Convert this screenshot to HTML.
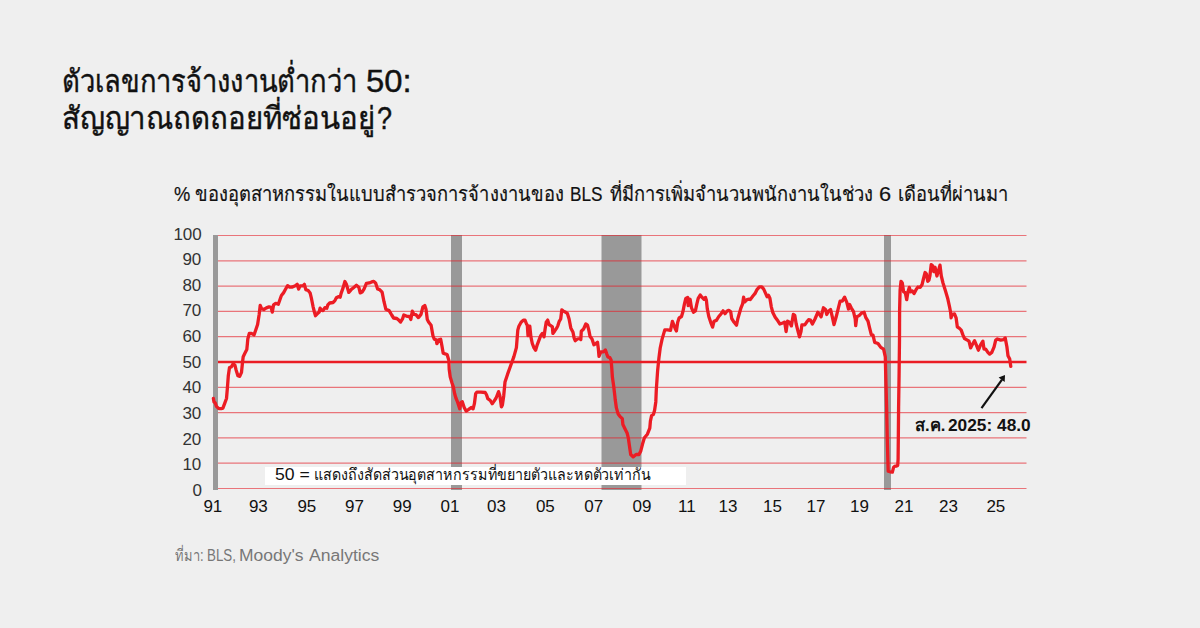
<!DOCTYPE html>
<html><head><meta charset="utf-8">
<style>
*{margin:0;padding:0;box-sizing:border-box}
html,body{width:1200px;height:628px;overflow:hidden;background:#efefef}
body{position:relative;font-family:"Liberation Sans",sans-serif;color:#111}
.r{position:absolute;white-space:nowrap;line-height:1.2;transform-origin:0 0}
.box{position:absolute;left:265px;top:467px;width:421px;height:17.7px;background:#fff}
svg{position:absolute;left:0;top:0}
</style></head><body>
<svg width="1200" height="628" viewBox="0 0 1200 628">
<g fill="#999">
<rect x="213" y="235" width="5" height="255"/>
<rect x="451" y="235" width="11" height="255"/>
<rect x="601.5" y="235" width="40" height="255"/>
<rect x="884" y="235" width="7" height="255"/>
</g>
<g stroke="#e5222b" stroke-opacity="0.6" stroke-width="1.2">
<line x1="218" x2="1026.5" y1="488.5" y2="488.5"/><line x1="218" x2="1026.5" y1="463.2" y2="463.2"/><line x1="218" x2="1026.5" y1="437.9" y2="437.9"/><line x1="218" x2="1026.5" y1="412.6" y2="412.6"/><line x1="218" x2="1026.5" y1="387.3" y2="387.3"/><line x1="218" x2="1026.5" y1="336.7" y2="336.7"/><line x1="218" x2="1026.5" y1="311.4" y2="311.4"/><line x1="218" x2="1026.5" y1="286.1" y2="286.1"/><line x1="218" x2="1026.5" y1="260.8" y2="260.8"/><line x1="218" x2="1026.5" y1="235.5" y2="235.5"/>
</g>
<line x1="218" x2="1026.5" y1="362.0" y2="362.0" stroke="#ea1d25" stroke-width="2.3"/>
<path d="M213.4 398.5 L214.0 402.1 L215.2 402.7 L216.4 406.3 L218.8 408.7 L221.1 408.7 L222.9 408.1 L224.7 403.3 L226.5 398.5 L227.4 387.8 L228.3 375.8 L229.5 367.5 L231.3 366.9 L233.1 363.9 L234.9 365.1 L236.1 369.9 L237.9 375.8 L239.7 376.4 L241.5 372.3 L242.6 361.5 L243.2 356.7 L245.0 353.1 L246.8 349.6 L247.4 343.6 L247.8 339.0 L249.3 333.3 L251.4 333.3 L254.0 334.9 L255.5 330.7 L257.6 324.5 L259.2 314.2 L260.2 305.4 L261.7 309.0 L263.8 309.5 L266.4 307.9 L269.0 306.9 L271.1 307.4 L272.3 312.1 L273.6 304.8 L275.7 303.3 L278.3 304.3 L279.9 299.7 L281.4 295.5 L283.5 292.9 L285.5 289.3 L287.6 285.7 L289.7 287.2 L292.4 287.0 L295.3 285.8 L297.2 284.3 L298.6 289.1 L300.1 285.8 L302.9 285.8 L304.4 284.3 L305.8 289.6 L308.2 290.5 L310.1 292.9 L311.5 298.7 L313.0 306.3 L314.4 312.0 L315.5 315.7 L317.2 313.9 L319.2 312.0 L320.1 308.2 L321.5 310.1 L323.0 310.6 L324.9 307.7 L326.8 308.2 L327.8 304.9 L329.7 303.0 L333.0 302.5 L334.9 300.6 L336.4 297.7 L338.3 296.7 L340.2 297.2 L341.1 293.4 L343.0 288.1 L344.9 281.5 L346.4 284.3 L347.8 289.1 L348.8 292.4 L351.2 289.6 L353.5 287.7 L356.4 285.3 L358.8 287.2 L360.2 292.9 L362.1 292.0 L364.0 289.1 L366.4 283.4 L369.3 282.9 L371.7 281.9 L373.8 281.3 L375.7 283.2 L377.6 288.9 L379.6 289.6 L382.1 292.1 L384.0 301.7 L385.9 309.3 L389.1 310.6 L391.7 315.0 L393.6 318.0 L396.8 318.5 L398.7 320.1 L400.6 322.0 L402.5 318.9 L403.8 315.0 L406.9 316.3 L409.5 316.3 L410.8 319.5 L412.3 311.2 L413.9 314.4 L415.9 314.6 L418.4 317.6 L421.0 314.4 L422.9 306.8 L424.8 305.5 L426.0 309.3 L427.3 319.5 L428.6 322.0 L431.1 325.2 L433.0 336.0 L434.3 339.2 L436.2 339.9 L436.9 343.7 L438.8 339.9 L440.7 339.2 L442.0 346.2 L443.2 353.2 L445.2 353.9 L447.1 354.5 L448.9 360.4 L449.2 369.3 L450.2 376.9 L452.1 383.3 L453.4 387.1 L454.6 393.5 L455.9 398.0 L457.2 401.1 L458.5 405.0 L459.7 408.8 L461.0 402.4 L462.3 401.8 L464.2 407.5 L466.1 411.1 L468.7 409.4 L471.2 407.5 L473.1 408.8 L474.4 403.7 L475.7 393.5 L476.9 392.2 L480.8 392.2 L485.2 392.5 L486.5 394.8 L487.8 398.6 L490.3 400.5 L492.2 403.7 L494.1 401.1 L496.1 398.0 L498.6 391.6 L499.9 396.0 L501.4 406.9 L502.4 405.0 L503.7 396.0 L505.0 382.0 L507.5 374.4 L510.7 365.5 L513.9 356.6 L516.4 347.6 L517.8 330.1 L518.9 326.2 L521.1 322.3 L523.4 320.1 L525.0 320.1 L526.7 324.5 L527.3 325.0 L528.0 335.7 L529.8 326.2 L530.9 336.8 L532.3 343.5 L534.0 347.9 L535.6 350.2 L537.3 344.6 L539.0 340.1 L540.7 335.7 L542.3 333.4 L543.4 334.6 L544.0 336.8 L545.1 329.0 L546.2 322.3 L547.7 320.1 L549.0 324.5 L550.7 325.6 L552.4 326.8 L552.9 333.4 L554.6 331.2 L556.8 327.9 L557.9 325.6 L559.1 321.7 L560.7 319.0 L561.8 310.0 L563.5 311.1 L565.7 312.3 L567.4 313.4 L569.1 319.0 L570.8 327.9 L573.0 332.3 L574.1 337.9 L575.2 340.7 L577.4 339.0 L579.7 338.5 L580.8 339.6 L581.3 331.2 L583.6 329.0 L585.8 324.0 L587.5 325.1 L588.8 330.2 L590.1 336.6 L592.0 339.1 L593.9 344.8 L595.8 343.6 L597.5 342.3 L598.4 349.3 L599.0 356.3 L600.9 351.8 L603.5 351.8 L605.4 349.9 L606.7 353.8 L607.9 356.9 L609.8 357.6 L611.1 360.1 L611.8 368.4 L612.4 377.3 L613.7 386.2 L614.9 396.4 L615.2 399.6 L616.4 407.9 L618.1 413.9 L619.9 416.3 L622.3 418.7 L622.9 424.6 L624.7 428.2 L627.1 433.0 L628.3 437.8 L629.5 446.2 L630.7 454.5 L633.1 456.9 L636.1 454.5 L639.0 454.5 L640.8 450.9 L642.6 443.8 L644.4 437.8 L647.4 434.2 L649.8 428.2 L650.4 421.1 L651.6 415.7 L653.4 414.5 L654.6 410.3 L655.8 401.9 L656.3 390.0 L657.6 371.0 L658.9 358.2 L660.2 348.0 L662.1 339.1 L664.8 329.9 L667.6 329.9 L670.5 330.4 L672.4 321.3 L673.9 325.2 L675.3 329.0 L676.4 330.9 L677.7 322.3 L679.1 318.0 L681.5 316.5 L682.9 311.8 L684.4 304.1 L685.8 298.4 L687.7 297.4 L688.2 305.6 L690.1 299.3 L691.5 307.9 L693.5 312.2 L695.4 310.8 L696.8 304.1 L698.2 298.4 L700.2 295.0 L702.1 297.4 L704.0 299.3 L705.4 297.4 L706.4 300.3 L707.3 308.9 L708.8 316.5 L710.7 322.3 L712.6 327.1 L714.0 321.3 L716.4 320.4 L718.8 316.5 L721.2 313.7 L723.1 310.8 L725.0 313.7 L726.9 311.3 L728.8 310.3 L730.7 311.8 L731.7 318.5 L734.1 322.3 L736.5 325.2 L737.9 318.5 L740.7 308.7 L742.6 303.9 L743.6 297.2 L744.6 302.0 L747.0 299.6 L749.3 299.1 L750.3 299.6 L752.7 296.3 L755.1 293.4 L757.0 289.6 L759.4 286.9 L761.8 286.9 L763.7 289.1 L765.6 293.4 L767.0 296.7 L768.5 295.3 L769.9 298.2 L771.3 306.8 L772.8 312.5 L775.2 317.3 L778.0 321.1 L779.9 324.0 L782.8 323.0 L784.7 322.1 L786.1 331.6 L787.6 321.1 L789.5 322.1 L791.4 325.9 L793.3 314.4 L794.8 315.4 L796.2 324.0 L798.1 331.6 L799.5 336.9 L801.0 331.6 L801.9 324.9 L804.8 324.9 L806.7 322.1 L808.6 319.7 L810.5 320.2 L812.4 324.0 L815.0 319.0 L817.8 312.3 L820.0 315.1 L821.1 316.8 L823.4 307.8 L825.6 309.5 L826.7 314.5 L828.4 311.2 L830.6 309.5 L832.3 316.8 L834.0 324.6 L836.2 316.8 L838.4 307.8 L840.1 301.1 L842.3 301.1 L844.6 297.2 L846.8 302.3 L848.5 309.0 L849.6 304.5 L851.2 307.8 L853.5 311.7 L855.2 319.0 L855.7 325.7 L856.8 316.8 L859.1 315.6 L861.8 312.9 L864.1 312.3 L865.7 317.3 L868.0 321.2 L869.6 327.9 L871.3 334.6 L873.0 335.1 L874.7 342.4 L878.0 343.5 L880.8 347.4 L883.6 349.1 L885.3 356.9 L885.7 373.4 L886.6 406.9 L887.3 440.3 L888.2 471.2 L890.1 471.8 L892.3 472.2 L893.6 467.4 L894.9 466.1 L896.5 466.1 L897.7 465.5 L898.1 459.1 L898.3 440.0 L898.6 406.9 L899.1 373.4 L899.5 340.0 L899.6 310.0 L900.1 290.1 L901.0 281.3 L902.3 283.0 L903.6 291.8 L905.3 292.7 L906.7 299.7 L908.0 291.8 L909.3 287.4 L910.6 291.8 L912.3 290.9 L914.1 293.6 L916.3 289.2 L918.0 287.0 L920.2 287.4 L922.0 284.8 L923.3 279.5 L925.1 272.5 L926.4 273.8 L927.7 281.3 L929.0 280.0 L929.9 276.0 L931.2 264.6 L932.5 265.5 L933.8 271.7 L935.1 267.3 L936.9 276.0 L938.2 271.7 L940.0 265.1 L941.3 276.0 L943.0 283.0 L945.2 290.1 L947.8 298.8 L949.5 306.7 L950.6 312.3 L951.1 317.8 L952.2 314.5 L954.5 313.9 L956.1 317.8 L957.3 326.8 L959.5 328.4 L961.2 330.1 L962.8 334.6 L964.5 338.5 L967.3 340.1 L969.0 341.2 L970.6 347.9 L972.3 344.6 L974.5 340.7 L976.2 344.6 L978.4 350.2 L980.7 344.6 L982.9 341.2 L984.0 349.1 L985.7 349.1 L987.9 352.4 L989.6 354.1 L991.8 352.4 L994.1 346.8 L995.7 340.1 L997.4 339.0 L1000.7 340.1 L1003.5 339.6 L1005.2 337.9 L1006.9 346.8 L1008.0 355.7 L1009.7 359.1 L1010.8 366.4" fill="none" stroke="#ec1c24" stroke-width="3.3" stroke-linejoin="round" stroke-linecap="round"/>
<line x1="981.5" y1="408.2" x2="1002" y2="379.6" stroke="#111" stroke-width="2.2"/>
<path d="M1005 375.1 L998.6 377.6 L1004.7 381.9 Z" fill="#111"/>
</svg>
<div class="box"></div>
<div class="r" style="left:62.44px;top:62.50px;font-size:31px;color:#111;transform:scaleX(0.8818);-webkit-text-stroke:0.4px #111;">ตัวเลขการจ้างงานต่ำกว่า</div><div class="r" style="left:366.34px;top:62.50px;font-size:31px;color:#111;transform:scaleX(1.0575);-webkit-text-stroke:0.4px #111;">50:</div><div class="r" style="left:62.30px;top:100.30px;font-size:31px;color:#111;transform:scaleX(0.9497);-webkit-text-stroke:0.4px #111;">สัญญาณถดถอยที่ซ่อนอยู่</div><div class="r" style="left:376.93px;top:100.30px;font-size:31px;color:#111;transform:scaleX(0.8733);-webkit-text-stroke:0.4px #111;">?</div><div class="r" style="left:174.00px;top:181.75px;font-size:20px;color:#111;transform:scaleX(0.9163);-webkit-text-stroke:0.2px #111;">% ของอุตสาหกรรมในแบบสำรวจการจ้างงานของ</div><div class="r" style="left:569.94px;top:181.75px;font-size:20px;color:#111;transform:scaleX(0.8583);-webkit-text-stroke:0.2px #111;">BLS</div><div class="r" style="left:610.00px;top:181.75px;font-size:20px;color:#111;transform:scaleX(0.9153);-webkit-text-stroke:0.2px #111;">ที่มีการเพิ่มจำนวนพนักงานในช่วง</div><div class="r" style="left:878.91px;top:181.75px;font-size:20px;color:#111;transform:scaleX(1.0900);-webkit-text-stroke:0.2px #111;">6</div><div class="r" style="left:897.78px;top:181.75px;font-size:20px;color:#111;transform:scaleX(0.9153);-webkit-text-stroke:0.2px #111;">เดือนที่ผ่านมา</div><div class="r" style="left:274.50px;top:465.30px;font-size:16px;color:#111;transform:scaleX(1.1000);">50 =</div><div class="r" style="left:314.11px;top:465.30px;font-size:16px;color:#111;transform:scaleX(0.8899);">แสดงถึงสัดส่วนอุตสาหกรรมที่ขยายตัวและหดตัวเท่ากัน</div><div class="r" style="left:914.69px;top:416.15px;font-size:16.5px;color:#111;transform:scaleX(1.0071);font-weight:bold;">ส.ค.</div><div class="r" style="left:948.00px;top:416.15px;font-size:16.5px;color:#111;transform:scaleX(1.0481);font-weight:bold;">2025: 48.0</div><div class="r" style="left:174.50px;top:546.30px;font-size:16px;color:#777;transform:scaleX(0.8059);">ที่มา:</div><div class="r" style="left:206.77px;top:546.30px;font-size:16px;color:#777;transform:scaleX(0.8333);">BLS,</div><div class="r" style="left:239.31px;top:546.30px;font-size:16px;color:#777;transform:scaleX(1.0914);">Moody's</div><div class="r" style="left:308.90px;top:546.30px;font-size:16px;color:#777;transform:scaleX(1.0984);">Analytics</div><div class="r" style="left:192.40px;top:481.00px;font-size:17px;color:#333;transform:scaleX(1.0000);">0</div><div class="r" style="left:182.40px;top:455.35px;font-size:17px;color:#333;transform:scaleX(1.0000);">10</div><div class="r" style="left:182.40px;top:429.70px;font-size:17px;color:#333;transform:scaleX(1.0000);">20</div><div class="r" style="left:182.40px;top:404.05px;font-size:17px;color:#333;transform:scaleX(1.0000);">30</div><div class="r" style="left:182.40px;top:378.40px;font-size:17px;color:#333;transform:scaleX(1.0000);">40</div><div class="r" style="left:182.40px;top:352.75px;font-size:17px;color:#333;transform:scaleX(1.0000);">50</div><div class="r" style="left:182.40px;top:327.10px;font-size:17px;color:#333;transform:scaleX(1.0000);">60</div><div class="r" style="left:182.40px;top:301.45px;font-size:17px;color:#333;transform:scaleX(1.0000);">70</div><div class="r" style="left:182.40px;top:275.80px;font-size:17px;color:#333;transform:scaleX(1.0000);">80</div><div class="r" style="left:182.40px;top:250.15px;font-size:17px;color:#333;transform:scaleX(1.0000);">90</div><div class="r" style="left:173.40px;top:224.50px;font-size:17px;color:#333;transform:scaleX(1.0000);">100</div><div class="r" style="left:203.40px;top:497.10px;font-size:17px;color:#111;transform:scaleX(1.0000);">91</div><div class="r" style="left:248.90px;top:497.10px;font-size:17px;color:#111;transform:scaleX(1.0000);">93</div><div class="r" style="left:297.40px;top:497.10px;font-size:17px;color:#111;transform:scaleX(1.0000);">95</div><div class="r" style="left:345.10px;top:497.10px;font-size:17px;color:#111;transform:scaleX(1.0000);">97</div><div class="r" style="left:392.70px;top:497.10px;font-size:17px;color:#111;transform:scaleX(1.0000);">99</div><div class="r" style="left:440.50px;top:497.10px;font-size:17px;color:#111;transform:scaleX(1.0000);">01</div><div class="r" style="left:487.10px;top:497.10px;font-size:17px;color:#111;transform:scaleX(1.0000);">03</div><div class="r" style="left:535.90px;top:497.10px;font-size:17px;color:#111;transform:scaleX(1.0000);">05</div><div class="r" style="left:584.20px;top:497.10px;font-size:17px;color:#111;transform:scaleX(1.0000);">07</div><div class="r" style="left:632.50px;top:497.10px;font-size:17px;color:#111;transform:scaleX(1.0000);">09</div><div class="r" style="left:678.00px;top:497.10px;font-size:17px;color:#111;transform:scaleX(1.0000);">11</div><div class="r" style="left:718.60px;top:497.10px;font-size:17px;color:#111;transform:scaleX(1.0000);">13</div><div class="r" style="left:763.00px;top:497.10px;font-size:17px;color:#111;transform:scaleX(1.0000);">15</div><div class="r" style="left:806.50px;top:497.10px;font-size:17px;color:#111;transform:scaleX(1.0000);">17</div><div class="r" style="left:850.00px;top:497.10px;font-size:17px;color:#111;transform:scaleX(1.0000);">19</div><div class="r" style="left:894.50px;top:497.10px;font-size:17px;color:#111;transform:scaleX(1.0000);">21</div><div class="r" style="left:939.00px;top:497.10px;font-size:17px;color:#111;transform:scaleX(1.0000);">23</div><div class="r" style="left:986.40px;top:497.10px;font-size:17px;color:#111;transform:scaleX(1.0000);">25</div>
</body></html>
